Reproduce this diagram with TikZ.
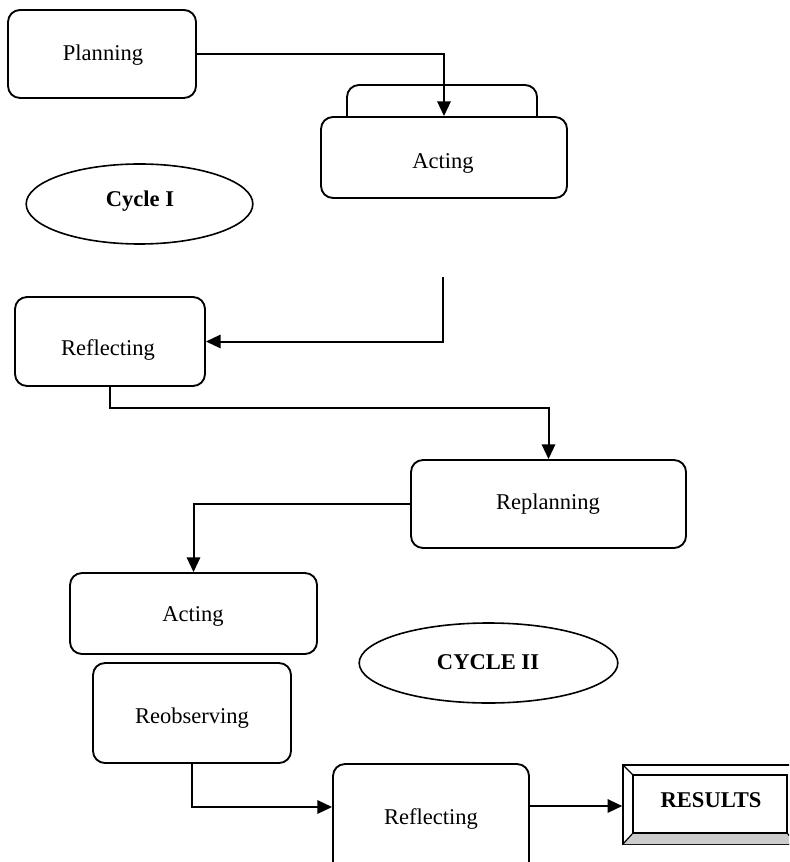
\documentclass[tikz,border=0pt]{standalone}
\usepackage{fontspec}
\setmainfont{Liberation Serif}
\usetikzlibrary{shapes.geometric,arrows.meta,fit}
\begin{document}
\begin{tikzpicture}[x=0.75pt,y=-0.75pt,
  box/.style={draw,line width=1.4pt,rounded corners=9pt,fill=white,inner sep=0pt},
  oval/.style={draw,line width=1.2pt,ellipse,inner sep=0pt,minimum height=60pt},
  txt/.style={font=\fontsize{16.9}{20}\selectfont,inner sep=0pt},
  btxt/.style={font=\fontsize{16.9}{20}\selectfont\bfseries,inner sep=0pt},
  arr/.style={line width=1.5pt,-{Triangle[length=11pt,width=10pt]}},
  ln/.style={line width=1.5pt}]
\clip (0,0) rectangle (789,862);
% boxes
\node[box,fit={(8,10) (196,98)}] (plan) {};
\node[box,fit={(347,85) (537,130)}] (tab) {};
\node[box,fit={(321,117) (567,198)}] (act1) {};
\node[box,fit={(15,297) (205,386)}] (refl1) {};
\node[box,fit={(411,460) (686,548)}] (replan) {};
\node[box,fit={(70,573) (317,654)}] (act2) {};
\node[box,fit={(93,663) (291,763)}] (reob) {};
\node[box,fit={(333,764) (529,874)}] (refl2) {};
% ellipses
\node[oval,minimum width=170pt] (cyc1) at (139.5,204) {};
\node[oval,minimum width=194pt] (cyc2) at (488.5,663) {};
% results bevel box
\node[draw,line width=1.1pt,inner sep=0pt,fit={(623,765) (800,844)}] (res) {};
\fill[gray!40] (623,844) -- (633,833) -- (787,833) -- (797,844) -- cycle;
\draw[line width=0.9pt] (623,844) -- (633,833) -- (787,833) -- (797,844);
\draw[line width=0.9pt] (623,765) -- (633,775);
\node[draw,line width=1.4pt,inner sep=0pt,fit={(633,775) (787,833)}] (resin) {};
% texts
\node[txt] (planT) at (103,55) {Planning};
\node[txt] (act1T) at (443,163) {Acting};
\node[btxt] (cyc1T) at (140,201) {Cycle I};
\node[txt] (refl1T) at (108,350) {Reflecting};
\node[txt] (replanT) at (548,504) {Replanning};
\node[txt] (act2T) at (193,616) {Acting};
\node[btxt] (cyc2T) at (488,662) {CYCLE II};
\node[txt] (reobT) at (192,718) {Reobserving};
\node[txt] (refl2T) at (431,819) {Reflecting};
\node[btxt] (resT) at (711,800) {RESULTS};
% connectors
\draw[arr] (plan.east) -| (act1.north);
\coordinate (c1) at (443,277);
\draw[arr] (c1) |- (refl1.east);
\draw[arr] (refl1.south) -- ++(0,21) -| (replan.north);
\draw[arr] (replan.west) -| (act2.north);
\draw[arr] (reob.south) |- (refl2.west |- 0,807);
\draw[arr] (refl2.east |- 0,806) -- (res.west |- 0,806);
\end{tikzpicture}
\end{document}
